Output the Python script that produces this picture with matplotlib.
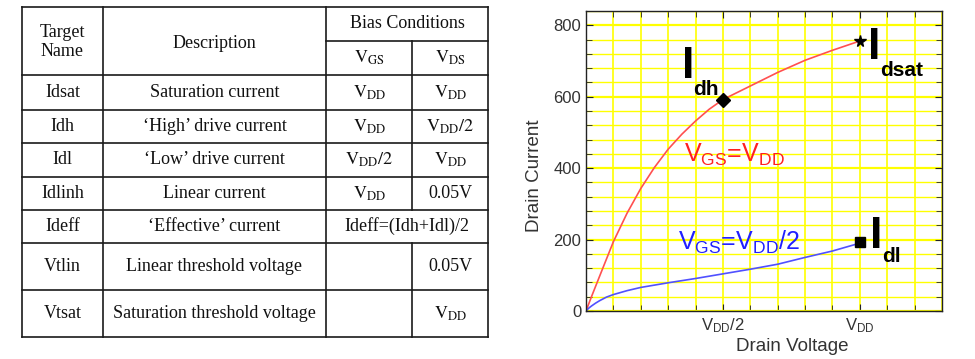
import numpy as np
import matplotlib
matplotlib.use('Agg')
import matplotlib.pyplot as plt
from matplotlib.ticker import MultipleLocator, FixedLocator

plt.rcParams['font.family'] = ['Liberation Sans', 'DejaVu Sans']
plt.rcParams['mathtext.fontset'] = 'custom'
plt.rcParams['mathtext.rm'] = 'Liberation Sans'
plt.rcParams['mathtext.it'] = 'Liberation Sans:italic'
plt.rcParams['mathtext.bf'] = 'Liberation Sans:bold'

# ---- table contents ----
VDD = r'$\mathrm{V_{DD}}$'
VDD2 = r'$\mathrm{V_{DD}/2}$'
names = ['Idsat', 'Idh', 'Idl', 'Idlinh', 'Ideff', 'Vtlin', 'Vtsat']
descs = ['Saturation current', '\u2018High\u2019 drive current',
         '\u2018Low\u2019 drive current', 'Linear current',
         '\u2018Effective\u2019 current', 'Linear threshold voltage',
         'Saturation threshold voltage']
vgs = [VDD, VDD, VDD2, VDD, None, '', '']
vds = [VDD, VDD2, VDD, '0.05V', None, '0.05V', VDD]
ideff_text = 'Ideff=(Idh+Idl)/2'

# ---- curve data (drain voltage in units of VDD, current) ----
vd_high = [0, 0.02, 0.05, 0.1, 0.15, 0.2, 0.25, 0.3, 0.35, 0.4, 0.45,
           0.5, 0.6, 0.7, 0.8, 0.9, 1.0]
id_high = [0, 40, 98, 194, 274, 343, 402, 453, 495, 532, 565,
           592, 630, 668, 702, 730, 756]
vd_low = [0, 0.01, 0.02, 0.035, 0.05, 0.075, 0.1, 0.15, 0.2, 0.3, 0.4,
          0.5, 0.6, 0.7, 0.8, 0.9, 1.0]
id_low = [0, 8, 14, 22, 29, 39, 46, 57, 66, 79, 91,
          104, 117, 131, 150, 168, 190]
idsat = (1.0, 756)
idh = (0.5, 590)
idl = (1.0, 194)

fig = plt.figure(figsize=(9.75, 3.59), dpi=100)

# ---- table, drawn in pixel coordinates ----
tax = fig.add_axes([0, 0, 1, 1])
tax.set_xlim(0, 975)
tax.set_ylim(359, 0)
tax.axis('off')

col_edges = [22, 103, 326, 412, 488]
row_edges = [7, 75, 110, 143, 177, 210, 243, 290, 337]
sub_head = 41
lc = dict(color='#1a1a1a', lw=1.2, solid_capstyle='projecting')

for y in row_edges:
    tax.plot([col_edges[0], col_edges[-1]], [y, y], **lc)
tax.plot([col_edges[2], col_edges[4]], [sub_head, sub_head], **lc)
for x in [col_edges[0], col_edges[1], col_edges[2], col_edges[4]]:
    tax.plot([x, x], [row_edges[0], row_edges[-1]], **lc)
tax.plot([col_edges[3]] * 2, [sub_head, row_edges[5]], **lc)
tax.plot([col_edges[3]] * 2, [row_edges[6], row_edges[-1]], **lc)

serif = dict(family='Liberation Serif', fontsize=13, color='#111',
             math_fontfamily='stix', ha='center', va='center')
cx = [(col_edges[i] + col_edges[i + 1]) / 2 for i in range(4)]
tax.text(cx[0], 42, 'Target\nName', linespacing=1.1, **serif)
tax.text(cx[1], 43, 'Description', **serif)
tax.text((col_edges[2] + col_edges[4]) / 2, (row_edges[0] + sub_head) / 2,
         'Bias Conditions', **serif)
tax.text(cx[2], 58, r'$\mathrm{V_{GS}}$', **serif)
tax.text(cx[3], 58, r'$\mathrm{V_{DS}}$', **serif)

for i in range(len(names)):
    cy = (row_edges[i + 1] + row_edges[i + 2]) / 2
    tax.text(cx[0], cy, names[i], **serif)
    tax.text(cx[1], cy, descs[i], **serif)
    if vgs[i] is None:
        tax.text((col_edges[2] + col_edges[4]) / 2, cy, ideff_text, **serif)
        continue
    tax.text(cx[2], cy, vgs[i], **serif)
    tax.text(cx[3], cy, vds[i], **serif)

# ---- I-V chart ----
ax = fig.add_axes([586 / 975, 1 - 311 / 359, 356 / 975, 300 / 359])
ax.set_xlim(0, 1.3)
ax.set_ylim(0, 840)
ax.set_axisbelow(True)

ax.xaxis.set_major_locator(FixedLocator([0.5, 1.0]))
ax.xaxis.set_minor_locator(MultipleLocator(0.1))
ax.set_xticklabels([VDD2, VDD])
ax.yaxis.set_major_locator(MultipleLocator(200))
ax.yaxis.set_minor_locator(MultipleLocator(40))

ax.grid(which='major', axis='y', color='#FFFF00', lw=1.6)
ax.grid(which='minor', axis='y', color='#FFFF00', lw=1.0)
ax.grid(which='both', axis='x', color='#FFFF00', lw=1.2)

ax.tick_params(which='both', direction='in', top=True, right=True,
               color='#222', labelcolor='#333', labelsize=12)
ax.tick_params(which='major', length=5, pad=3.5)
ax.tick_params(which='minor', length=4)
for s in ax.spines.values():
    s.set_color('#222')
    s.set_linewidth(1.0)

ax.plot(vd_high, id_high, color='#FF5050', lw=1.2)
ax.plot(vd_low, id_low, color='#5050FF', lw=1.2)
ax.plot(*idh, marker='D', ms=7.5, color='black')
ax.plot(*idsat, marker='*', ms=8.5, color='black')
ax.plot(*idl, marker='s', ms=7, color='black')

big = dict(fontsize=32, fontweight='bold', color='black', ha='left', va='baseline')
sub = dict(fontsize=15, fontweight='bold', color='black', ha='left', va='baseline')
ax.text(0.352, 653, 'I', **big)
ax.text(0.39, 605, 'dh', **sub)
ax.text(1.031, 706, 'I', **big)
ax.text(1.073, 658, 'dsat', **sub)
ax.text(1.038, 177, 'I', **big)
ax.text(1.08, 137, 'dl', **sub)

ax.text(0.358, 417, r'V$_{\mathrm{GS}}$=V$_{\mathrm{DD}}$', fontsize=18,
        color='#FF2020', ha='left', va='baseline')
ax.text(0.336, 171, r'V$_{\mathrm{GS}}$=V$_{\mathrm{DD}}$/2', fontsize=18,
        color='#2020FF', ha='left', va='baseline')

ax.set_xlabel('Drain Voltage', fontsize=13.5, color='#333', va='top')
ax.xaxis.set_label_coords(0.58, -0.09)
ax.set_ylabel('Drain Current', fontsize=13.5, color='#333')
ax.yaxis.set_label_coords(-0.121, 0.45)

fig.savefig('out.png', dpi=100)
